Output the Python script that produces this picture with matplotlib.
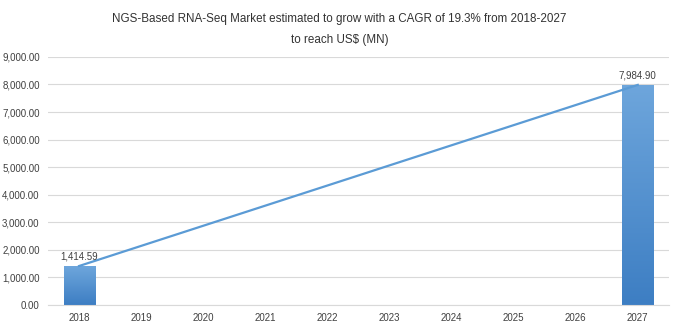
import matplotlib.pyplot as plt
import numpy as np
from matplotlib.ticker import FuncFormatter
from matplotlib.colors import LinearSegmentedColormap

years = ["2018", "2019", "2020", "2021", "2022", "2023", "2024", "2025", "2026", "2027"]
market = [1414.59, None, None, None, None, None, None, None, None, 7984.90]
title = "NGS-Based RNA-Seq Market estimated to grow with a CAGR of 19.3% from 2018-2027\nto reach US$ (MN)"

plt.rcParams["font.family"] = ["Liberation Sans", "DejaVu Sans"]

fig = plt.figure(figsize=(6.79, 3.31), dpi=100)
ax = fig.add_axes([0.0707, 0.0785, 0.9143, 0.7495])

x = np.arange(len(years))
vals = np.array([np.nan if v is None else v for v in market])
has = ~np.isnan(vals)

# bars with a vertical gradient, darker at the bottom
bars = ax.bar(x[has], vals[has], width=0.5, color="#5592d2", zorder=2)
cmap = LinearSegmentedColormap.from_list("g", ["#3d7ec3", "#6ea6dc"])
grad = np.linspace(0, 1, 256).reshape(-1, 1)
for b in bars:
    x0, y0 = b.get_x(), b.get_y()
    im = ax.imshow(grad, cmap=cmap, origin="lower", aspect="auto",
                   extent=[x0, x0 + b.get_width(), y0, y0 + b.get_height()], zorder=2)
    im.set_clip_path(b)

ax.plot(x[has], vals[has], color="#5b9bd5", lw=1.6, zorder=3)

for xi, v in zip(x[has], vals[has]):
    ax.text(xi, v + 150, f"{v:,.2f}", ha="center", va="bottom", fontsize=7, color="#404040")

ax.set_xlim(-0.5, len(years) - 0.5)
ax.set_ylim(0, 9000)
ax.set_yticks(np.arange(0, 9001, 1000))
ax.yaxis.set_major_formatter(FuncFormatter(lambda v, p: f"{v:,.2f}"))
ax.set_xticks(x)
ax.set_xticklabels(years)
ax.tick_params(axis="both", length=0, labelsize=7, colors="#404040", pad=6)
ax.grid(axis="y", color="#d9d9d9", lw=0.8, zorder=0)
for s in ["top", "right", "left"]:
    ax.spines[s].set_visible(False)
ax.spines["bottom"].set_color("#d9d9d9")
ax.set_axisbelow(True)

fig.text(0.5, 0.962, title, ha="center", va="top", fontsize=8.4, color="#333333", linespacing=2.0)

fig.savefig("out.png", dpi=100)
